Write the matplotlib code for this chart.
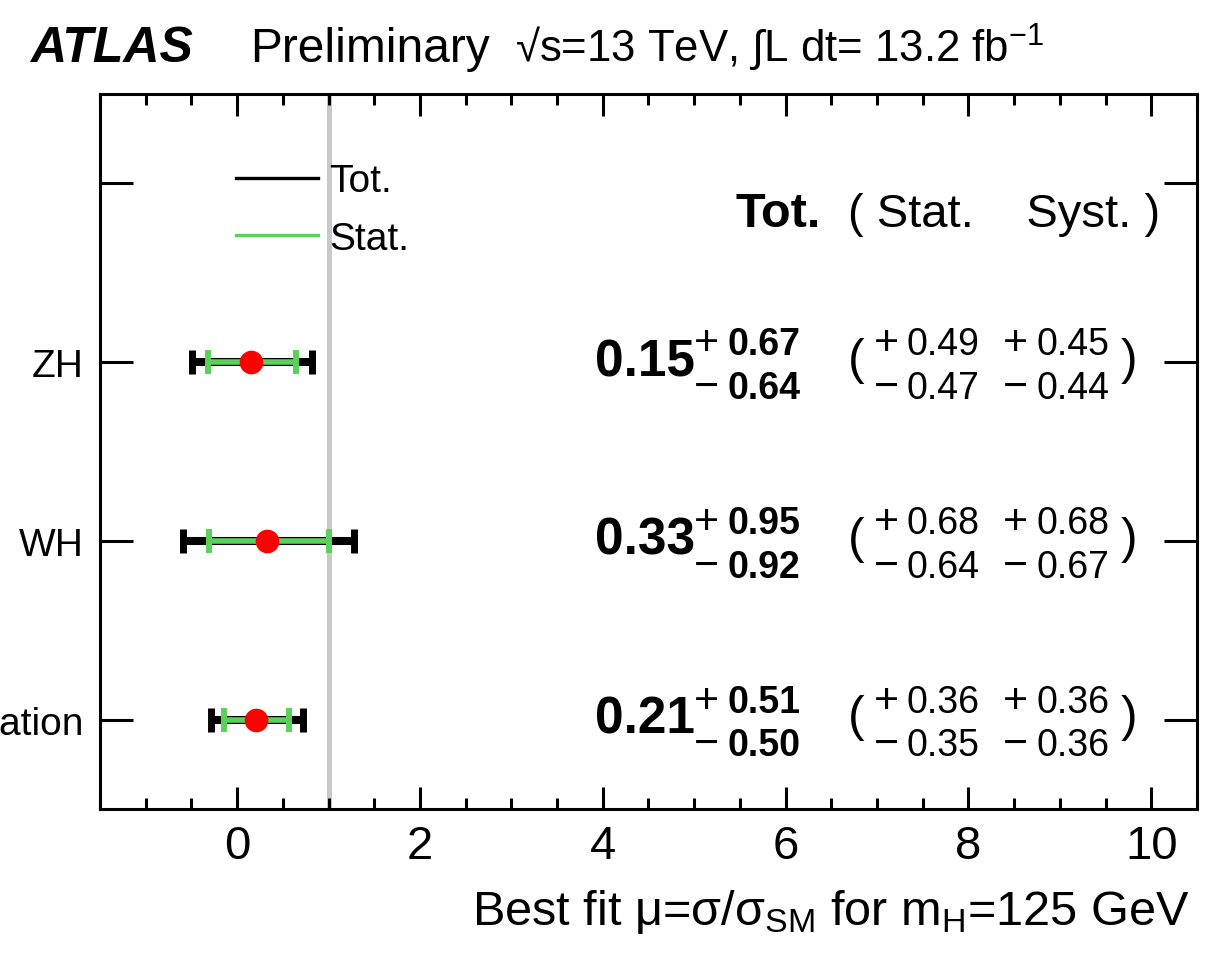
import matplotlib
matplotlib.use("Agg")
import matplotlib.pyplot as plt
from matplotlib.lines import Line2D
from matplotlib.ticker import MultipleLocator

plt.rcParams['font.family'] = ['Liberation Sans', 'DejaVu Sans']
plt.rcParams['mathtext.fontset'] = 'custom'
plt.rcParams['mathtext.rm'] = 'Liberation Sans'
plt.rcParams['mathtext.it'] = 'Liberation Sans:italic'
plt.rcParams['mathtext.bf'] = 'Liberation Sans:bold'

# measurements, top row first
categories = ["ZH", "WH", "Combination"]
ypos = [3, 2, 1]
mu = [0.15, 0.33, 0.21]
tot_up = [0.67, 0.95, 0.51]
tot_dn = [0.64, 0.92, 0.50]
stat_up = [0.49, 0.68, 0.36]
stat_dn = [0.47, 0.64, 0.35]
syst_up = [0.45, 0.68, 0.36]
syst_dn = [0.44, 0.67, 0.36]

green = '#5ad25a'

fig = plt.figure(figsize=(12.16, 9.62), dpi=100)
ax = fig.add_axes([0.0822, 0.158, 0.9022, 0.7432])

# SM line
ax.axvline(1.0, color='#c8c8c8', lw=3.6, zorder=1)

ax.errorbar(mu, ypos, xerr=[tot_dn, tot_up], fmt='none', ecolor='black',
            elinewidth=5.8, capsize=8.3, capthick=5.0, zorder=2)
ax.errorbar(mu, ypos, xerr=[stat_dn, stat_up], fmt='none', ecolor=green,
            elinewidth=4.0, capsize=8.3, capthick=4.3, zorder=3)
ax.plot(mu, ypos, 'o', color='red', mec='red', ms=16, zorder=4)

# numbers on the right
for i in range(len(mu)):
    y = ypos[i]
    ax.text(3.92, y - 0.073, "%.2f" % mu[i], fontsize=37, fontweight='bold',
            ha='left', va='baseline')
    ax.text(5.0, y + 0.045, "+", fontsize=31, ha='left', va='baseline')
    ax.text(5.0, y - 0.20, "\u2212", fontsize=31, ha='left', va='baseline')
    ax.text(5.36, y + 0.045, "%.2f" % tot_up[i], fontsize=27, fontweight='bold',
            ha='left', va='baseline')
    ax.text(5.36, y - 0.20, "%.2f" % tot_dn[i], fontsize=27, fontweight='bold',
            ha='left', va='baseline')
    ax.text(6.68, y - 0.06, "(", fontsize=36, ha='left', va='baseline')
    ax.text(9.66, y - 0.06, ")", fontsize=36, ha='left', va='baseline')
    ax.text(6.96, y + 0.045, "+", fontsize=31, ha='left', va='baseline')
    ax.text(6.96, y - 0.20, "\u2212", fontsize=31, ha='left', va='baseline')
    ax.text(7.32, y + 0.045, "%.2f" % stat_up[i], fontsize=27, ha='left', va='baseline')
    ax.text(7.32, y - 0.20, "%.2f" % stat_dn[i], fontsize=27, ha='left', va='baseline')
    ax.text(8.38, y + 0.045, "+", fontsize=31, ha='left', va='baseline')
    ax.text(8.38, y - 0.20, "\u2212", fontsize=31, ha='left', va='baseline')
    ax.text(8.74, y + 0.045, "%.2f" % syst_up[i], fontsize=27, ha='left', va='baseline')
    ax.text(8.74, y - 0.20, "%.2f" % syst_dn[i], fontsize=27, ha='left', va='baseline')

# column header
ax.text(5.45, 3.76, "Tot.", fontsize=35, fontweight='bold', ha='left', va='baseline')
ax.text(6.68, 3.76, "( Stat.    Syst. )", fontsize=34, ha='left', va='baseline')

ax.set_xlim(-1.5, 10.5)
ax.set_ylim(0.5, 4.5)
ax.xaxis.set_major_locator(MultipleLocator(2))
ax.xaxis.set_minor_locator(MultipleLocator(0.5))
ax.set_yticks([1, 2, 3, 4])
ax.set_yticklabels(["Combination", "WH", "ZH", ""])
ax.tick_params(axis='x', which='major', direction='in', length=16, width=2.2,
               top=True, labelsize=34, pad=11)
ax.tick_params(axis='x', which='minor', direction='in', length=8, width=2.2, top=True)
ax.tick_params(axis='y', which='major', direction='in', length=24, width=2.2,
               right=True, labelsize=28, pad=12)
ax.tick_params(axis='y', which='minor', left=False, right=False)
for s in ax.spines.values():
    s.set_linewidth(2.2)

handles = [Line2D([], [], color='black', lw=2.4),
           Line2D([], [], color=green, lw=2.4)]
ax.legend(handles, ["Tot.", "Stat."], loc='upper left', bbox_to_anchor=(0.11, 0.925),
          frameon=False, fontsize=28, handlelength=2.1, handletextpad=0.3,
          labelspacing=0.55, borderaxespad=0)

fig.text(1190 / 1216, 1 - 925 / 962,
         r"Best fit μ=σ/σ$_{\rm SM}$ for m$_{\rm H}$=125 GeV",
         fontsize=35, ha='right', va='baseline')

fig.text(30 / 1216, 1 - 62 / 962, "ATLAS", fontsize=36, fontweight='bold',
         fontstyle='italic', ha='left', va='baseline')
fig.text(250 / 1216, 1 - 62 / 962, "Preliminary", fontsize=34.5, ha='left', va='baseline')
fig.text(515 / 1216, 1 - 62 / 962, "\u221as=13 TeV, \u222bL dt= 13.2 fb$^{-1}$",
         fontsize=31.5, ha='left', va='baseline')

fig.savefig("out.png", dpi=100)
